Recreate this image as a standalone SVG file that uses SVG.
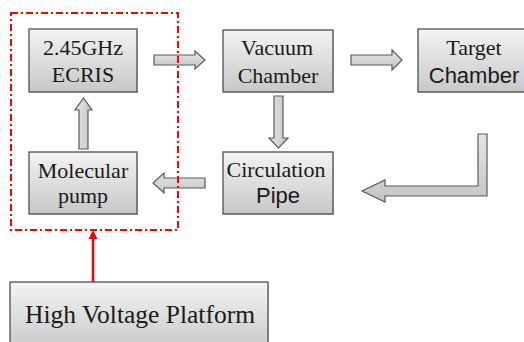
<svg xmlns="http://www.w3.org/2000/svg" width="524" height="342" viewBox="0 0 524 342">
<defs>
<linearGradient id="boxg" x1="0" y1="0" x2="0" y2="1">
<stop offset="0" stop-color="#f3f3f3"/>
<stop offset="1" stop-color="#c8c8c8"/>
</linearGradient>
<linearGradient id="arrg" x1="0" y1="0" x2="0" y2="1">
<stop offset="0" stop-color="#e6e6e6"/>
<stop offset="1" stop-color="#c4c4c4"/>
</linearGradient>
<linearGradient id="arrgh" x1="0" y1="0" x2="1" y2="0">
<stop offset="0" stop-color="#e6e6e6"/>
<stop offset="1" stop-color="#c4c4c4"/>
</linearGradient>
</defs>
<style>
.box{fill:url(#boxg);stroke:#505050;stroke-width:1.3}
.shadow{fill:#b0b0b0;opacity:0.6}
.arr{fill:url(#arrg);stroke:#5a5a5a;stroke-width:1.2;stroke-linejoin:miter}
.arrv{fill:url(#arrgh);stroke:#5a5a5a;stroke-width:1.2}
.ts{font-family:"Liberation Serif","Times New Roman",serif;font-size:22px;fill:#1a1a1a;text-anchor:middle}
.ta{font-family:"Liberation Sans",Arial,sans-serif;font-size:22px;fill:#1a1a1a;text-anchor:middle}
.dash{fill:none;stroke:#ff0000;stroke-width:2;stroke-dasharray:7 3 2 3}
</style>
<g id="connectors">
<polygon class="arr" points="154,55 195,55 195,51 205,60 195,69 195,65 154,65"/>
<polygon class="arr" points="351,55 392,55 392,50 402,60 392,70 392,65 351,65"/>
<polygon class="arrv" points="274,96 283,96 283,138 288,138 278.5,148 269,138 274,138"/>
<polygon class="arr" points="478,134 487,134 487,196 385,196 385,202 362,191 385,180 385,186 478,186"/>
<polygon class="arr" points="205,178 164,178 164,173 153,183 164,193 164,188 205,188"/>
<polygon class="arrv" points="79,149 88,149 88,110 92,110 83.5,98 75,110 79,110"/>
<line x1="93" y1="282" x2="93" y2="237" stroke="#ff0000" stroke-width="2.5"/>
<polygon points="88.5,239 93,230 97.5,239" fill="#ff0000"/>
</g>
<g id="ecris">
<rect class="shadow" x="30" y="30" width="108" height="63"/>
<rect class="box" x="29" y="29" width="108" height="63"/>
<text class="ts" x="83" y="55">2.45GHz</text>
<text class="ts" x="83" y="82">ECRIS</text>
</g>
<g id="vacuum">
<rect class="shadow" x="224" y="31" width="110" height="62"/>
<rect class="box" x="223" y="30" width="110" height="62"/>
<text class="ts" x="277" y="55">Vacuum</text>
<text class="ts" x="278" y="83">Chamber</text>
</g>
<g id="target">
<rect class="shadow" x="419" y="30" width="112" height="63"/>
<rect class="box" x="418" y="29" width="112" height="63"/>
<text class="ts" x="474" y="55">Target</text>
<text class="ta" x="474" y="83">Chamber</text>
</g>
<g id="circulation">
<rect class="shadow" x="224" y="153" width="110" height="62"/>
<rect class="box" x="223" y="152" width="110" height="62"/>
<text class="ts" x="276" y="177">Circulation</text>
<text class="ta" x="278" y="203">Pipe</text>
</g>
<g id="molecular">
<rect class="shadow" x="30" y="153" width="108" height="62"/>
<rect class="box" x="29" y="152" width="108" height="62"/>
<text class="ts" x="83" y="178">Molecular</text>
<text class="ts" x="83" y="203">pump</text>
</g>
<g id="hvp">
<rect class="shadow" x="11" y="283" width="258" height="70"/>
<rect class="box" x="10" y="282" width="258" height="70"/>
<text class="ts" x="140" y="323" style="font-size:25.5px">High Voltage Platform</text>
</g>
<g id="platform-boundary">
<rect class="dash" x="11" y="13" width="167" height="217"/>
</g>
</svg>
